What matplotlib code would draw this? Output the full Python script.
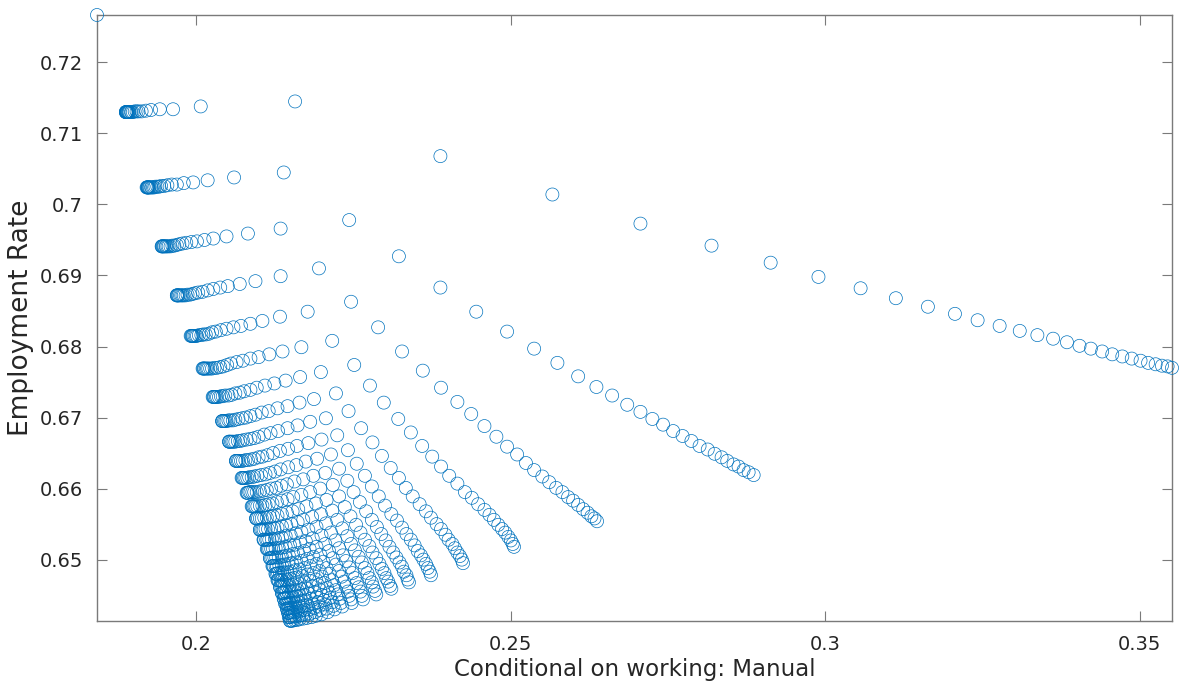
import matplotlib
matplotlib.use('Agg')
import matplotlib.pyplot as plt
from matplotlib.ticker import FormatStrFormatter

# one ray of the grid per pair of lists (manual share, employment rate)
manual_01 = [0.2157, 0.2388, 0.2566, 0.2706, 0.2819, 0.2913, 0.2989, 0.3056, 0.3112, 0.3163, 0.3206, 0.3242, 0.3277, 0.3309, 0.3337, 0.3362, 0.3384, 0.3404, 0.3422, 0.3440, 0.3456, 0.3472, 0.3487, 0.3501, 0.3513, 0.3525, 0.3535, 0.3544, 0.3551]
emp_01 = [0.7145, 0.7068, 0.7014, 0.6973, 0.6942, 0.6918, 0.6898, 0.6882, 0.6868, 0.6856, 0.6846, 0.6837, 0.6829, 0.6822, 0.6816, 0.6811, 0.6806, 0.6801, 0.6797, 0.6793, 0.6789, 0.6786, 0.6783, 0.6780, 0.6777, 0.6775, 0.6773, 0.6772, 0.6770]
manual_02 = [0.2007, 0.2139, 0.2243, 0.2322, 0.2388, 0.2445, 0.2494, 0.2537, 0.2574, 0.2607, 0.2636, 0.2661, 0.2685, 0.2706, 0.2725, 0.2742, 0.2758, 0.2773, 0.2787, 0.2800, 0.2813, 0.2824, 0.2835, 0.2844, 0.2854, 0.2862, 0.2870, 0.2878, 0.2886]
emp_02 = [0.7138, 0.7045, 0.6978, 0.6927, 0.6883, 0.6849, 0.6821, 0.6797, 0.6777, 0.6758, 0.6743, 0.6731, 0.6718, 0.6708, 0.6698, 0.6690, 0.6681, 0.6674, 0.6667, 0.6660, 0.6655, 0.6649, 0.6644, 0.6639, 0.6634, 0.6631, 0.6626, 0.6623, 0.6619]
manual_03 = [0.1963, 0.2060, 0.2134, 0.2195, 0.2246, 0.2289, 0.2327, 0.2360, 0.2389, 0.2415, 0.2437, 0.2458, 0.2477, 0.2494, 0.2510, 0.2524, 0.2537, 0.2550, 0.2561, 0.2572, 0.2582, 0.2591, 0.2599, 0.2607, 0.2615, 0.2622, 0.2628, 0.2633, 0.2637]
emp_03 = [0.7134, 0.7038, 0.6966, 0.6910, 0.6863, 0.6827, 0.6793, 0.6766, 0.6742, 0.6722, 0.6705, 0.6688, 0.6673, 0.6659, 0.6648, 0.6636, 0.6626, 0.6617, 0.6609, 0.6601, 0.6595, 0.6588, 0.6583, 0.6577, 0.6571, 0.6566, 0.6561, 0.6558, 0.6554]
manual_04 = [0.1942, 0.2018, 0.2082, 0.2134, 0.2177, 0.2216, 0.2251, 0.2276, 0.2298, 0.2321, 0.2341, 0.2359, 0.2375, 0.2389, 0.2402, 0.2415, 0.2427, 0.2438, 0.2448, 0.2458, 0.2466, 0.2473, 0.2480, 0.2486, 0.2491, 0.2496, 0.2500, 0.2503, 0.2505]
emp_04 = [0.7134, 0.7034, 0.6959, 0.6899, 0.6849, 0.6808, 0.6774, 0.6745, 0.6721, 0.6698, 0.6679, 0.6660, 0.6645, 0.6631, 0.6618, 0.6607, 0.6595, 0.6587, 0.6578, 0.6570, 0.6563, 0.6556, 0.6549, 0.6543, 0.6538, 0.6532, 0.6527, 0.6522, 0.6518]
manual_05 = [0.1928, 0.1995, 0.2048, 0.2094, 0.2133, 0.2167, 0.2198, 0.2222, 0.2242, 0.2262, 0.2280, 0.2295, 0.2309, 0.2322, 0.2333, 0.2344, 0.2355, 0.2365, 0.2373, 0.2382, 0.2389, 0.2396, 0.2401, 0.2407, 0.2411, 0.2415, 0.2419, 0.2422, 0.2424]
emp_05 = [0.7133, 0.7031, 0.6955, 0.6892, 0.6842, 0.6799, 0.6764, 0.6734, 0.6709, 0.6685, 0.6665, 0.6646, 0.6629, 0.6615, 0.6601, 0.6589, 0.6578, 0.6568, 0.6559, 0.6550, 0.6543, 0.6535, 0.6528, 0.6522, 0.6516, 0.6510, 0.6505, 0.6500, 0.6495]
manual_06 = [0.1920, 0.1980, 0.2027, 0.2069, 0.2105, 0.2137, 0.2165, 0.2187, 0.2206, 0.2224, 0.2241, 0.2255, 0.2268, 0.2279, 0.2290, 0.2300, 0.2310, 0.2319, 0.2327, 0.2334, 0.2341, 0.2347, 0.2352, 0.2357, 0.2361, 0.2365, 0.2368, 0.2371, 0.2373]
emp_06 = [0.7132, 0.7030, 0.6952, 0.6888, 0.6836, 0.6793, 0.6757, 0.6726, 0.6699, 0.6675, 0.6654, 0.6635, 0.6618, 0.6603, 0.6589, 0.6576, 0.6564, 0.6555, 0.6545, 0.6536, 0.6528, 0.6520, 0.6512, 0.6506, 0.6500, 0.6494, 0.6488, 0.6483, 0.6478]
manual_07 = [0.1913, 0.1969, 0.2013, 0.2050, 0.2086, 0.2116, 0.2142, 0.2164, 0.2181, 0.2199, 0.2214, 0.2227, 0.2240, 0.2250, 0.2260, 0.2270, 0.2279, 0.2287, 0.2294, 0.2301, 0.2307, 0.2313, 0.2318, 0.2323, 0.2327, 0.2330, 0.2334, 0.2336, 0.2338]
emp_07 = [0.7131, 0.7028, 0.6950, 0.6885, 0.6832, 0.6789, 0.6752, 0.6721, 0.6694, 0.6669, 0.6648, 0.6628, 0.6611, 0.6595, 0.6581, 0.6568, 0.6556, 0.6546, 0.6536, 0.6527, 0.6518, 0.6510, 0.6503, 0.6496, 0.6490, 0.6483, 0.6478, 0.6472, 0.6468]
manual_08 = [0.1908, 0.1961, 0.2001, 0.2038, 0.2071, 0.2099, 0.2124, 0.2145, 0.2161, 0.2178, 0.2192, 0.2205, 0.2217, 0.2227, 0.2236, 0.2245, 0.2254, 0.2261, 0.2268, 0.2275, 0.2280, 0.2286, 0.2291, 0.2295, 0.2299, 0.2302, 0.2305, 0.2308, 0.2310]
emp_08 = [0.7131, 0.7028, 0.6948, 0.6883, 0.6829, 0.6785, 0.6748, 0.6716, 0.6689, 0.6664, 0.6642, 0.6622, 0.6605, 0.6589, 0.6574, 0.6561, 0.6549, 0.6538, 0.6528, 0.6519, 0.6510, 0.6502, 0.6494, 0.6487, 0.6481, 0.6474, 0.6469, 0.6463, 0.6459]
manual_09 = [0.1905, 0.1954, 0.1992, 0.2027, 0.2059, 0.2086, 0.2109, 0.2129, 0.2145, 0.2160, 0.2174, 0.2186, 0.2197, 0.2207, 0.2216, 0.2224, 0.2232, 0.2240, 0.2246, 0.2252, 0.2258, 0.2263, 0.2268, 0.2272, 0.2275, 0.2279, 0.2281, 0.2284, 0.2286]
emp_09 = [0.7131, 0.7027, 0.6947, 0.6881, 0.6827, 0.6783, 0.6745, 0.6713, 0.6685, 0.6660, 0.6638, 0.6618, 0.6600, 0.6584, 0.6569, 0.6556, 0.6544, 0.6533, 0.6522, 0.6513, 0.6504, 0.6496, 0.6488, 0.6481, 0.6474, 0.6468, 0.6462, 0.6456, 0.6451]
manual_10 = [0.1902, 0.1949, 0.1984, 0.2018, 0.2048, 0.2074, 0.2096, 0.2115, 0.2130, 0.2146, 0.2159, 0.2170, 0.2181, 0.2190, 0.2198, 0.2206, 0.2214, 0.2221, 0.2227, 0.2233, 0.2238, 0.2243, 0.2248, 0.2252, 0.2255, 0.2258, 0.2261, 0.2263, 0.2265]
emp_10 = [0.7131, 0.7026, 0.6946, 0.6879, 0.6825, 0.6780, 0.6742, 0.6709, 0.6681, 0.6656, 0.6633, 0.6613, 0.6595, 0.6579, 0.6564, 0.6551, 0.6538, 0.6527, 0.6516, 0.6506, 0.6498, 0.6489, 0.6481, 0.6474, 0.6467, 0.6461, 0.6455, 0.6449, 0.6444]
manual_11 = [0.1899, 0.1944, 0.1978, 0.2010, 0.2039, 0.2064, 0.2086, 0.2104, 0.2118, 0.2133, 0.2146, 0.2156, 0.2167, 0.2175, 0.2184, 0.2191, 0.2199, 0.2205, 0.2211, 0.2217, 0.2222, 0.2227, 0.2231, 0.2235, 0.2238, 0.2241, 0.2243, 0.2246, 0.2247]
emp_11 = [0.7130, 0.7026, 0.6945, 0.6877, 0.6823, 0.6778, 0.6739, 0.6707, 0.6678, 0.6653, 0.6630, 0.6610, 0.6591, 0.6575, 0.6560, 0.6546, 0.6534, 0.6522, 0.6512, 0.6502, 0.6493, 0.6484, 0.6476, 0.6469, 0.6462, 0.6455, 0.6449, 0.6444, 0.6439]
manual_12 = [0.1897, 0.1941, 0.1973, 0.2003, 0.2031, 0.2055, 0.2076, 0.2094, 0.2108, 0.2122, 0.2134, 0.2144, 0.2154, 0.2162, 0.2170, 0.2178, 0.2185, 0.2191, 0.2197, 0.2202, 0.2207, 0.2212, 0.2216, 0.2219, 0.2222, 0.2225, 0.2228, 0.2230, 0.2232]
emp_12 = [0.7130, 0.7025, 0.6944, 0.6876, 0.6821, 0.6776, 0.6737, 0.6704, 0.6676, 0.6650, 0.6627, 0.6606, 0.6588, 0.6571, 0.6556, 0.6542, 0.6530, 0.6518, 0.6507, 0.6497, 0.6488, 0.6480, 0.6471, 0.6464, 0.6457, 0.6451, 0.6445, 0.6439, 0.6434]
manual_13 = [0.1896, 0.1938, 0.1969, 0.1998, 0.2025, 0.2049, 0.2069, 0.2086, 0.2099, 0.2113, 0.2125, 0.2135, 0.2145, 0.2153, 0.2161, 0.2167, 0.2174, 0.2180, 0.2186, 0.2191, 0.2196, 0.2200, 0.2204, 0.2208, 0.2211, 0.2213, 0.2216, 0.2218, 0.2220]
emp_13 = [0.7130, 0.7025, 0.6943, 0.6875, 0.6820, 0.6774, 0.6735, 0.6702, 0.6673, 0.6647, 0.6624, 0.6604, 0.6585, 0.6568, 0.6553, 0.6539, 0.6526, 0.6515, 0.6504, 0.6494, 0.6484, 0.6476, 0.6467, 0.6460, 0.6453, 0.6446, 0.6440, 0.6435, 0.6430]
manual_14 = [0.1894, 0.1935, 0.1965, 0.1994, 0.2020, 0.2043, 0.2062, 0.2079, 0.2092, 0.2105, 0.2117, 0.2127, 0.2136, 0.2144, 0.2151, 0.2158, 0.2165, 0.2171, 0.2176, 0.2181, 0.2186, 0.2190, 0.2194, 0.2197, 0.2200, 0.2203, 0.2205, 0.2207, 0.2209]
emp_14 = [0.7130, 0.7025, 0.6942, 0.6874, 0.6818, 0.6772, 0.6734, 0.6700, 0.6671, 0.6645, 0.6622, 0.6601, 0.6583, 0.6566, 0.6550, 0.6537, 0.6524, 0.6512, 0.6501, 0.6491, 0.6481, 0.6472, 0.6464, 0.6457, 0.6450, 0.6443, 0.6437, 0.6431, 0.6426]
manual_15 = [0.1893, 0.1933, 0.1962, 0.1990, 0.2015, 0.2038, 0.2056, 0.2073, 0.2086, 0.2099, 0.2110, 0.2119, 0.2128, 0.2136, 0.2143, 0.2150, 0.2156, 0.2162, 0.2167, 0.2172, 0.2177, 0.2181, 0.2184, 0.2188, 0.2191, 0.2193, 0.2195, 0.2197, 0.2199]
emp_15 = [0.7130, 0.7024, 0.6942, 0.6873, 0.6817, 0.6771, 0.6732, 0.6699, 0.6670, 0.6644, 0.6620, 0.6600, 0.6581, 0.6564, 0.6548, 0.6534, 0.6521, 0.6509, 0.6498, 0.6488, 0.6479, 0.6470, 0.6462, 0.6454, 0.6447, 0.6440, 0.6434, 0.6429, 0.6423]
manual_16 = [0.1892, 0.1931, 0.1959, 0.1986, 0.2011, 0.2033, 0.2051, 0.2067, 0.2080, 0.2092, 0.2103, 0.2112, 0.2121, 0.2129, 0.2136, 0.2142, 0.2149, 0.2154, 0.2159, 0.2164, 0.2168, 0.2172, 0.2176, 0.2179, 0.2182, 0.2185, 0.2187, 0.2189, 0.2190]
emp_16 = [0.7130, 0.7024, 0.6941, 0.6873, 0.6817, 0.6770, 0.6731, 0.6698, 0.6669, 0.6642, 0.6619, 0.6598, 0.6579, 0.6562, 0.6547, 0.6533, 0.6520, 0.6508, 0.6496, 0.6486, 0.6477, 0.6468, 0.6459, 0.6452, 0.6445, 0.6438, 0.6432, 0.6426, 0.6421]
manual_17 = [0.1892, 0.1929, 0.1956, 0.1983, 0.2008, 0.2029, 0.2046, 0.2062, 0.2074, 0.2087, 0.2097, 0.2106, 0.2115, 0.2122, 0.2129, 0.2136, 0.2142, 0.2147, 0.2152, 0.2157, 0.2161, 0.2165, 0.2168, 0.2172, 0.2174, 0.2177, 0.2179, 0.2181, 0.2183]
emp_17 = [0.7130, 0.7024, 0.6941, 0.6872, 0.6816, 0.6770, 0.6731, 0.6697, 0.6668, 0.6641, 0.6618, 0.6597, 0.6578, 0.6561, 0.6545, 0.6531, 0.6518, 0.6506, 0.6495, 0.6485, 0.6475, 0.6466, 0.6458, 0.6450, 0.6443, 0.6436, 0.6430, 0.6424, 0.6419]
manual_18 = [0.1891, 0.1928, 0.1954, 0.1980, 0.2004, 0.2025, 0.2042, 0.2058, 0.2070, 0.2082, 0.2092, 0.2101, 0.2110, 0.2117, 0.2124, 0.2130, 0.2136, 0.2141, 0.2146, 0.2150, 0.2155, 0.2158, 0.2162, 0.2165, 0.2168, 0.2170, 0.2172, 0.2174, 0.2176]
emp_18 = [0.7130, 0.7024, 0.6941, 0.6872, 0.6816, 0.6769, 0.6730, 0.6696, 0.6667, 0.6640, 0.6617, 0.6596, 0.6577, 0.6560, 0.6544, 0.6530, 0.6517, 0.6505, 0.6494, 0.6483, 0.6474, 0.6465, 0.6456, 0.6449, 0.6442, 0.6435, 0.6429, 0.6423, 0.6418]
manual_19 = [0.1890, 0.1926, 0.1952, 0.1978, 0.2001, 0.2022, 0.2039, 0.2054, 0.2066, 0.2078, 0.2088, 0.2096, 0.2105, 0.2112, 0.2119, 0.2125, 0.2131, 0.2136, 0.2140, 0.2145, 0.2149, 0.2153, 0.2156, 0.2159, 0.2162, 0.2164, 0.2166, 0.2168, 0.2170]
emp_19 = [0.7130, 0.7024, 0.6941, 0.6872, 0.6815, 0.6769, 0.6730, 0.6696, 0.6667, 0.6640, 0.6616, 0.6595, 0.6576, 0.6559, 0.6544, 0.6529, 0.6516, 0.6504, 0.6493, 0.6482, 0.6473, 0.6464, 0.6455, 0.6448, 0.6440, 0.6434, 0.6428, 0.6422, 0.6417]
manual_20 = [0.1890, 0.1925, 0.1951, 0.1976, 0.1999, 0.2019, 0.2036, 0.2051, 0.2062, 0.2074, 0.2084, 0.2092, 0.2101, 0.2108, 0.2114, 0.2120, 0.2126, 0.2131, 0.2136, 0.2140, 0.2144, 0.2148, 0.2151, 0.2154, 0.2157, 0.2159, 0.2161, 0.2163, 0.2164]
emp_20 = [0.7130, 0.7024, 0.6941, 0.6872, 0.6815, 0.6769, 0.6729, 0.6696, 0.6666, 0.6639, 0.6616, 0.6595, 0.6576, 0.6559, 0.6543, 0.6529, 0.6516, 0.6503, 0.6492, 0.6482, 0.6472, 0.6463, 0.6455, 0.6447, 0.6440, 0.6433, 0.6427, 0.6421, 0.6416]
manual_21 = [0.1889, 0.1924, 0.1949, 0.1974, 0.1997, 0.2017, 0.2033, 0.2048, 0.2059, 0.2071, 0.2081, 0.2089, 0.2097, 0.2104, 0.2110, 0.2116, 0.2122, 0.2127, 0.2132, 0.2136, 0.2140, 0.2144, 0.2147, 0.2150, 0.2152, 0.2155, 0.2157, 0.2158, 0.2160]
emp_21 = [0.7130, 0.7024, 0.6941, 0.6872, 0.6815, 0.6769, 0.6729, 0.6695, 0.6666, 0.6639, 0.6615, 0.6595, 0.6575, 0.6558, 0.6543, 0.6528, 0.6515, 0.6503, 0.6492, 0.6481, 0.6472, 0.6463, 0.6454, 0.6446, 0.6439, 0.6432, 0.6426, 0.6420, 0.6415]
manual_22 = [0.1889, 0.1923, 0.1948, 0.1972, 0.1995, 0.2015, 0.2031, 0.2046, 0.2057, 0.2068, 0.2078, 0.2086, 0.2094, 0.2101, 0.2107, 0.2113, 0.2119, 0.2124, 0.2128, 0.2133, 0.2136, 0.2140, 0.2143, 0.2146, 0.2149, 0.2151, 0.2153, 0.2155, 0.2156]
emp_22 = [0.7130, 0.7024, 0.6941, 0.6872, 0.6815, 0.6769, 0.6729, 0.6695, 0.6666, 0.6639, 0.6615, 0.6595, 0.6575, 0.6558, 0.6542, 0.6528, 0.6515, 0.6503, 0.6491, 0.6481, 0.6471, 0.6462, 0.6454, 0.6446, 0.6439, 0.6432, 0.6426, 0.6420, 0.6415]
manual_23 = [0.1889, 0.1923, 0.1947, 0.1971, 0.1994, 0.2013, 0.2029, 0.2044, 0.2055, 0.2066, 0.2076, 0.2084, 0.2092, 0.2098, 0.2105, 0.2111, 0.2116, 0.2121, 0.2126, 0.2130, 0.2134, 0.2137, 0.2140, 0.2143, 0.2146, 0.2148, 0.2150, 0.2152, 0.2153]
emp_23 = [0.7130, 0.7024, 0.6941, 0.6872, 0.6815, 0.6769, 0.6729, 0.6695, 0.6666, 0.6639, 0.6615, 0.6595, 0.6575, 0.6558, 0.6542, 0.6528, 0.6515, 0.6503, 0.6491, 0.6481, 0.6471, 0.6462, 0.6453, 0.6446, 0.6438, 0.6432, 0.6426, 0.6420, 0.6414]
manual_24 = [0.1888, 0.1922, 0.1946, 0.1970, 0.1993, 0.2012, 0.2028, 0.2042, 0.2053, 0.2064, 0.2074, 0.2082, 0.2090, 0.2096, 0.2103, 0.2108, 0.2114, 0.2119, 0.2123, 0.2128, 0.2131, 0.2135, 0.2138, 0.2141, 0.2144, 0.2146, 0.2148, 0.2149, 0.2151]
emp_24 = [0.7130, 0.7024, 0.6941, 0.6872, 0.6815, 0.6769, 0.6729, 0.6695, 0.6666, 0.6639, 0.6615, 0.6594, 0.6575, 0.6558, 0.6542, 0.6528, 0.6515, 0.6502, 0.6491, 0.6480, 0.6471, 0.6462, 0.6453, 0.6446, 0.6438, 0.6431, 0.6425, 0.6419, 0.6414]
manual_25 = [0.1888, 0.1922, 0.1945, 0.1969, 0.1992, 0.2011, 0.2027, 0.2041, 0.2052, 0.2063, 0.2073, 0.2081, 0.2089, 0.2095, 0.2101, 0.2107, 0.2113, 0.2117, 0.2122, 0.2126, 0.2130, 0.2133, 0.2136, 0.2139, 0.2142, 0.2144, 0.2146, 0.2148, 0.2149]
emp_25 = [0.7130, 0.7024, 0.6941, 0.6872, 0.6815, 0.6769, 0.6729, 0.6695, 0.6666, 0.6639, 0.6615, 0.6594, 0.6575, 0.6558, 0.6542, 0.6528, 0.6515, 0.6502, 0.6491, 0.6480, 0.6471, 0.6462, 0.6453, 0.6445, 0.6438, 0.6431, 0.6425, 0.6419, 0.6414]
manual_26 = [0.1888, 0.1921, 0.1945, 0.1969, 0.1991, 0.2010, 0.2026, 0.2041, 0.2052, 0.2063, 0.2072, 0.2080, 0.2088, 0.2095, 0.2101, 0.2107, 0.2112, 0.2117, 0.2121, 0.2126, 0.2129, 0.2133, 0.2136, 0.2139, 0.2141, 0.2144, 0.2146, 0.2147, 0.2149]
emp_26 = [0.7130, 0.7024, 0.6941, 0.6872, 0.6815, 0.6769, 0.6729, 0.6695, 0.6666, 0.6639, 0.6615, 0.6594, 0.6575, 0.6558, 0.6542, 0.6528, 0.6515, 0.6502, 0.6491, 0.6480, 0.6471, 0.6461, 0.6453, 0.6445, 0.6438, 0.6431, 0.6425, 0.6419, 0.6414]

# single point sitting in the top left corner
manual_top = [0.18421]
emp_top = [0.72667]

xticks = [0.2, 0.25, 0.3, 0.35]
yticks = [0.65, 0.66, 0.67, 0.68, 0.69, 0.7, 0.71, 0.72]

rays = [
    (manual_01, emp_01), (manual_02, emp_02), (manual_03, emp_03), (manual_04, emp_04),
    (manual_05, emp_05), (manual_06, emp_06), (manual_07, emp_07), (manual_08, emp_08),
    (manual_09, emp_09), (manual_10, emp_10), (manual_11, emp_11), (manual_12, emp_12),
    (manual_13, emp_13), (manual_14, emp_14), (manual_15, emp_15), (manual_16, emp_16),
    (manual_17, emp_17), (manual_18, emp_18), (manual_19, emp_19), (manual_20, emp_20),
    (manual_21, emp_21), (manual_22, emp_22), (manual_23, emp_23), (manual_24, emp_24),
    (manual_25, emp_25), (manual_26, emp_26), (manual_top, emp_top),
]

blue = '#0072BD'
axis_grey = '#7a7a7a'

fig = plt.figure(figsize=(11.83, 6.84), dpi=100)
ax = fig.add_axes([97 / 1183, 63.3 / 684, 1075 / 1183, 605.7 / 684])

all_x = []
all_y = []
for xs, ys in rays:
    ax.scatter(xs, ys, s=88, facecolors='none', edgecolors=blue,
               linewidths=0.5, clip_on=False, zorder=3)
    all_x += xs
    all_y += ys

# tight limits, like MATLAB's axis tight
ax.set_xlim(min(all_x), max(all_x))
ax.set_ylim(min(all_y), max(all_y))

ax.set_xticks(xticks)
ax.set_yticks(yticks)
ax.xaxis.set_major_formatter(FormatStrFormatter('%g'))
ax.yaxis.set_major_formatter(FormatStrFormatter('%g'))
ax.tick_params(direction='in', top=True, right=True, length=7, width=0.8,
               color=axis_grey, labelsize=14, labelcolor='#262626', pad=10)
for sp in ax.spines.values():
    sp.set_color(axis_grey)
    sp.set_linewidth(1.0)

ax.set_xlabel('Conditional on working: Manual', fontsize=16.5, color='#262626')
ax.set_ylabel('Employment Rate', fontsize=19, color='#262626')
ax.xaxis.set_label_coords(0.5, -0.061)
ax.yaxis.set_label_coords(-0.059, 0.5)

fig.savefig('out.png', dpi=100)
